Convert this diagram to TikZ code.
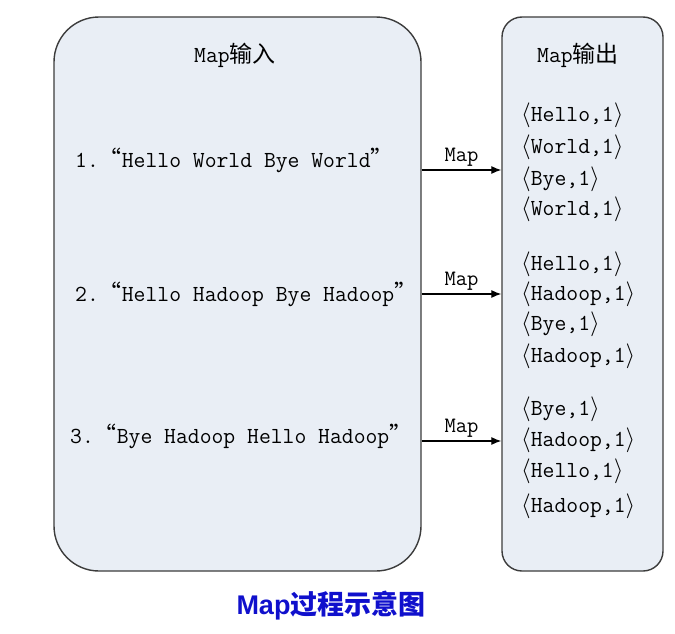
\documentclass[tikz,border=0pt]{standalone}
\usepackage{fontspec}
\usepackage{tikz}
\usepackage{xcolor}
\usetikzlibrary{arrows.meta, positioning, calc}
\newfontfamily\cjk{Noto Sans CJK SC}
\newfontfamily\titlesans{Liberation Sans}
\definecolor{cBox}{RGB}{233,238,245}
\definecolor{cEdge}{RGB}{60,60,60}
\definecolor{cTitle}{RGB}{16,16,204}
\newcommand{\openq}{{\cjk “}}
\newcommand{\closeq}{{\cjk ”}}
\tikzset{
    mapbox/.style   ={rectangle, draw=cEdge, line width=1.4pt, fill=cBox, inner sep=0pt},
    maptext/.style  ={anchor=west, inner sep=0pt, font=\fontsize{23}{27}\selectfont\ttfamily},
    boxhead/.style  ={inner sep=0pt, font=\fontsize{23}{27}\selectfont\ttfamily},
    flowarrow/.style={-{Latex[length=10pt, width=8pt]}, line width=1.1pt},
    maplabel/.style ={above, inner sep=3pt, font=\fontsize{22}{26}\selectfont\ttfamily},
}

\begin{document}
\begin{tikzpicture}[x=1pt, y=-1pt]
    \useasboundingbox (0,0) rectangle (675,634);
    % the two boxes
    \node[mapbox, rounded corners=45pt, minimum width=367pt, minimum height=554pt] (inbox) at (237.5,294) {};
    \node[mapbox, rounded corners=20pt, minimum width=161pt, minimum height=554pt] (outbox) at (582.5,294) {};
    % input side
    \node[boxhead] (inhead) at (235,55) {Map{\cjk 输入}};
    \node[maptext] (line1) at (75,160) {1.\openq Hello World Bye World\closeq};
    \node[maptext] (line2) at (75,294) {2.\openq Hello Hadoop Bye Hadoop\closeq};
    \node[maptext] (line3) at (70,436) {3.\openq Bye Hadoop Hello Hadoop\closeq};
    % output side
    \node[boxhead] (outhead) at (578,55) {Map{\cjk 输出}};
    \node[maptext] (o1)  at (521,115) {$\langle$Hello,1$\rangle$};
    \node[maptext] (o2)  at (521,147) {$\langle$World,1$\rangle$};
    \node[maptext] (o3)  at (521,179) {$\langle$Bye,1$\rangle$};
    \node[maptext] (o4)  at (521,209) {$\langle$World,1$\rangle$};
    \node[maptext] (o5)  at (521,264) {$\langle$Hello,1$\rangle$};
    \node[maptext] (o6)  at (521,294) {$\langle$Hadoop,1$\rangle$};
    \node[maptext] (o7)  at (521,324) {$\langle$Bye,1$\rangle$};
    \node[maptext] (o8)  at (521,356) {$\langle$Hadoop,1$\rangle$};
    \node[maptext] (o9)  at (521,409) {$\langle$Bye,1$\rangle$};
    \node[maptext] (o10) at (521,440) {$\langle$Hadoop,1$\rangle$};
    \node[maptext] (o11) at (521,471) {$\langle$Hello,1$\rangle$};
    \node[maptext] (o12) at (521,506) {$\langle$Hadoop,1$\rangle$};
    % arrows
    \coordinate (a1) at (0,170);
    \coordinate (a2) at (0,294);
    \coordinate (a3) at (0,441);
    \draw[flowarrow] (inbox.east |- a1) -- node[maplabel] {Map} (outbox.west |- a1);
    \draw[flowarrow] (inbox.east |- a2) -- node[maplabel] {Map} (outbox.west |- a2);
    \draw[flowarrow] (inbox.east |- a3) -- node[maplabel] {Map} (outbox.west |- a3);
    % caption
    \node[text=cTitle, font=\fontsize{27}{32}\selectfont\bfseries] (title) at (331,606) {{\titlesans Map}{\cjk 过程示意图}};
\end{tikzpicture}
\end{document}
